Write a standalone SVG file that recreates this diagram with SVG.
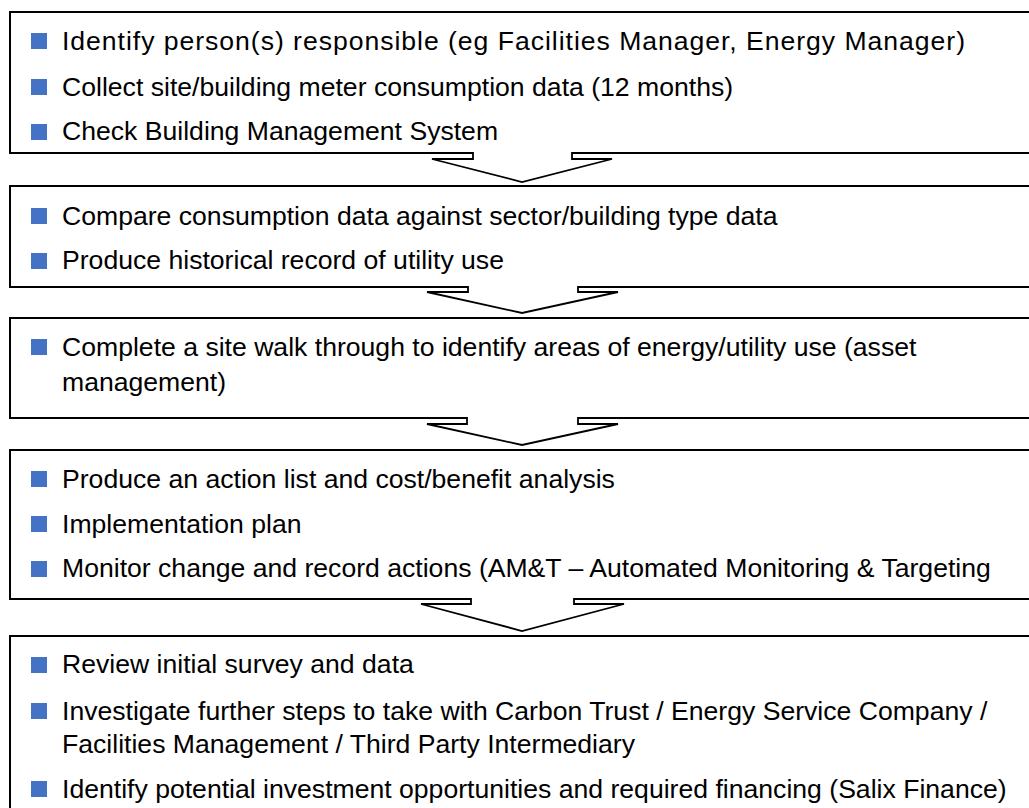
<svg xmlns="http://www.w3.org/2000/svg" width="1029" height="808" viewBox="0 0 1029 808">
<style>
.box{fill:#fff;stroke:#000;stroke-width:2}
.arr{fill:#fff;stroke:#000;stroke-width:1.8;stroke-linejoin:miter}
.b{fill:#4472C4}
text{font-family:"Liberation Sans",Arial,sans-serif;font-size:26.6px;fill:#000}
</style>
<rect width="1029" height="808" fill="#fff"/>
<g id="box1">
<rect class="box" x="10" y="12" width="1030" height="141"/>
<rect class="b" x="31" y="33" width="16" height="16"/>
<text x="62" y="50" textLength="903" lengthAdjust="spacing">Identify person(s) responsible (eg Facilities Manager, Energy Manager)</text>
<rect class="b" x="31" y="79" width="16" height="16"/>
<text x="62" y="96">Collect site/building meter consumption data (12 months)</text>
<rect class="b" x="31" y="124" width="16" height="16"/>
<text x="62" y="140">Check Building Management System</text>
</g>
<g id="box2">
<rect class="box" x="10" y="186" width="1030" height="101"/>
<rect class="b" x="31" y="208" width="16" height="16"/>
<text x="62" y="225">Compare consumption data against sector/building type data</text>
<rect class="b" x="31" y="253" width="16" height="16"/>
<text x="62" y="269">Produce historical record of utility use</text>
</g>
<g id="box3">
<rect class="box" x="10" y="318" width="1030" height="100"/>
<rect class="b" x="31" y="339" width="16" height="16"/>
<text x="62" y="356">Complete a site walk through to identify areas of energy/utility use (asset</text>
<text x="62" y="391">management)</text>
</g>
<g id="box4">
<rect class="box" x="10" y="450" width="1030" height="149"/>
<rect class="b" x="31" y="471" width="16" height="16"/>
<text x="62" y="488">Produce an action list and cost/benefit analysis</text>
<rect class="b" x="31" y="516" width="16" height="16"/>
<text x="62" y="533">Implementation plan</text>
<rect class="b" x="31" y="561" width="16" height="16"/>
<text x="62" y="577">Monitor change and record actions (AM&amp;T – Automated Monitoring &amp; Targeting</text>
</g>
<g id="box5">
<rect class="box" x="10" y="636" width="1030" height="190"/>
<rect class="b" x="31" y="657" width="16" height="16"/>
<text x="62" y="673">Review initial survey and data</text>
<rect class="b" x="31" y="703" width="16" height="16"/>
<text x="62" y="720">Investigate further steps to take with Carbon Trust / Energy Service Company /</text>
<text x="62" y="753">Facilities Management / Third Party Intermediary</text>
<rect class="b" x="31" y="781" width="16" height="16"/>
<text x="62" y="798">Identify potential investment opportunities and required financing (Salix Finance)</text>
</g>
<g id="connectors">
<path class="arr" d="M473,152 V159 H432 L522,182 L612,159 H572 V152"/>
<path class="arr" d="M468,286 V292 H427 L522,313 L618,292 H578 V286"/>
<path class="arr" d="M467,417 V424 H427 L522,445 L618,424 H578 V417"/>
<path class="arr" d="M471,598 V604 H421 L522,631 L624,604 H574 V598"/>
</g>
</svg>
